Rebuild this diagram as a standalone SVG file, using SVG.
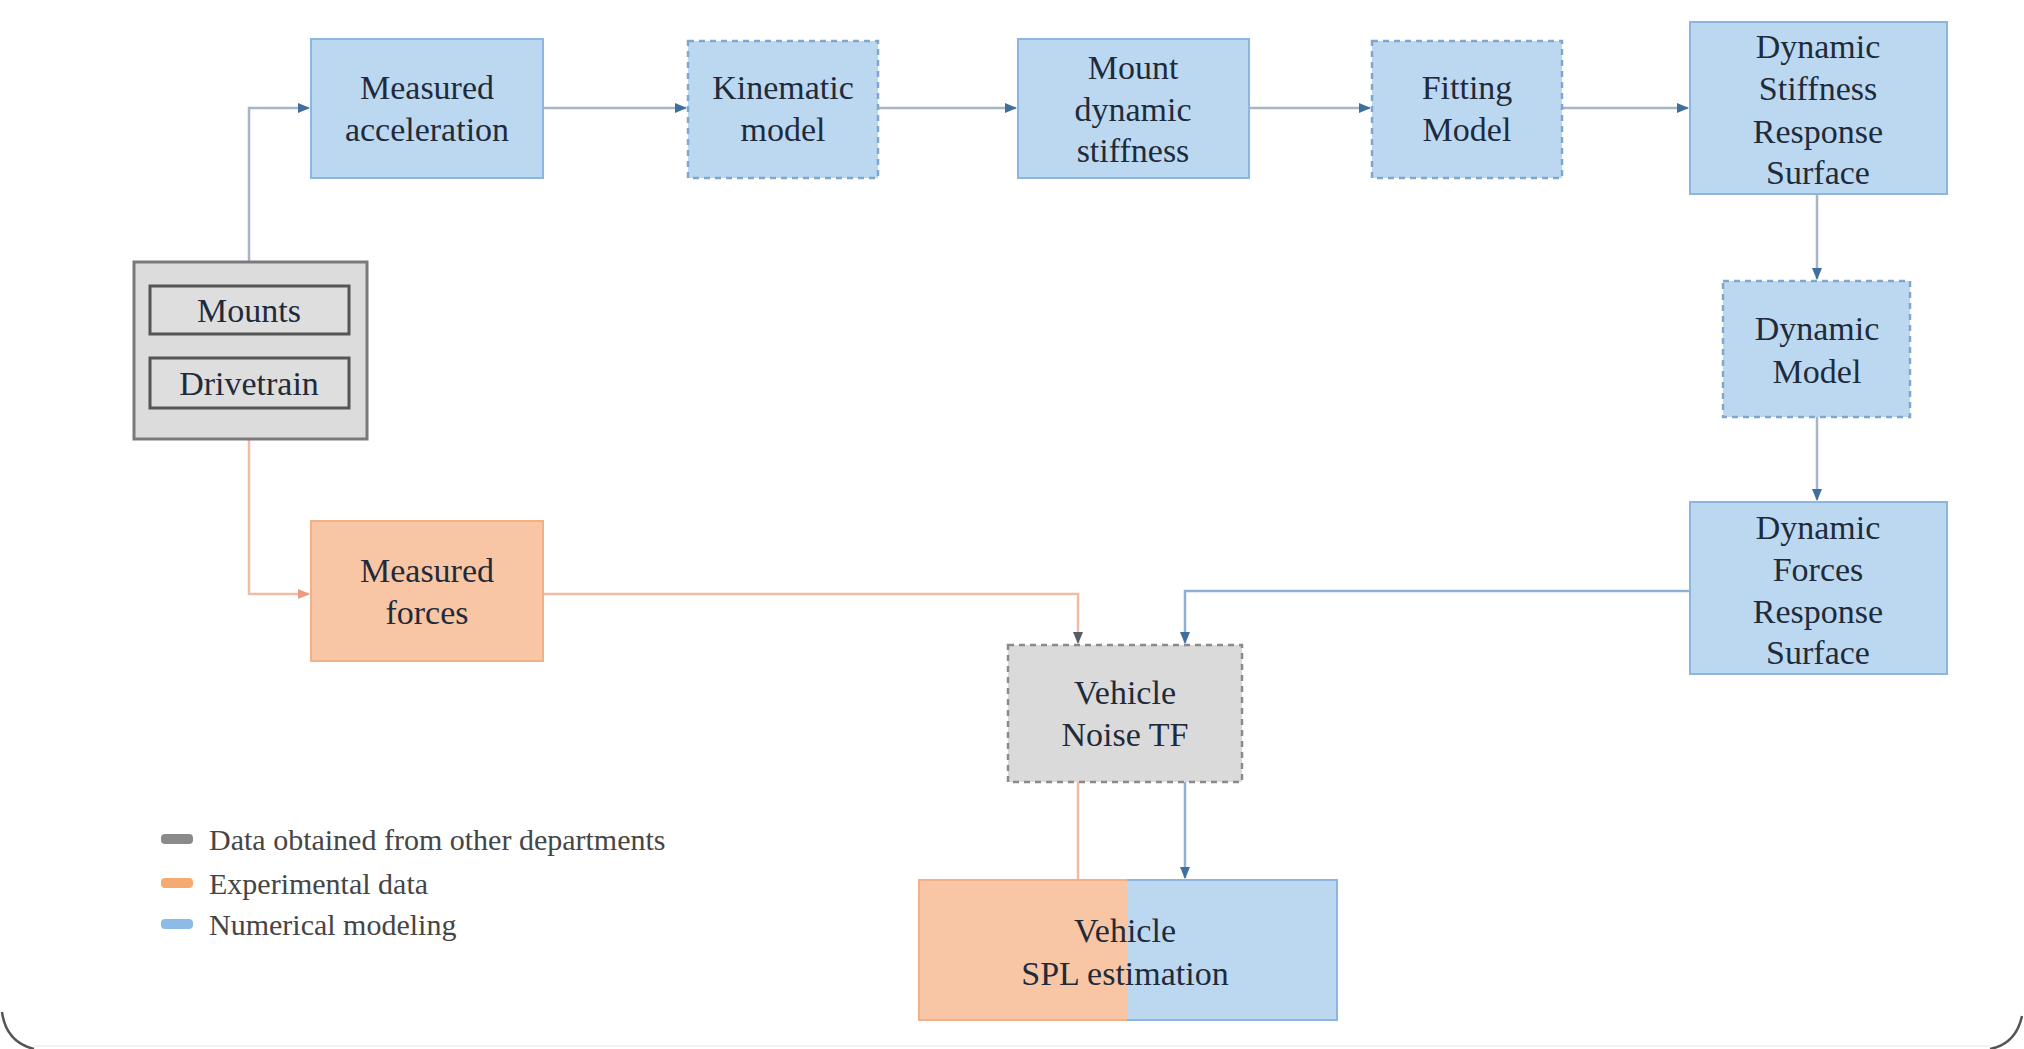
<svg xmlns="http://www.w3.org/2000/svg" width="2024" height="1049" viewBox="0 0 2024 1049">
<defs>
<style>
.t{font-size:34px;fill:#1f2b3a;text-anchor:middle}
.lg{font-size:30px;fill:#454545}
.blue{fill:#bcd8f1;stroke:#8cb6de;stroke-width:2}
.blued{fill:#bcd8f1;stroke:#7fa6cc;stroke-width:2.5;stroke-dasharray:6 5}
.orange{fill:#f8c6a4;stroke:#f0b088;stroke-width:2}
.gray{fill:#dcdcdc;stroke:#7a7a7a;stroke-width:3}
.grayin{fill:#dedede;stroke:#555;stroke-width:3}
.grayd{fill:#dadada;stroke:#8a8a8a;stroke-width:2.5;stroke-dasharray:6 5}
.cb{fill:none;stroke:#a6b6c8;stroke-width:2.5}
.cblue{fill:none;stroke:#8fb0d2;stroke-width:2.5}
.co{fill:none;stroke:#f2bca4;stroke-width:2.5}
</style>
<marker id="ab" markerUnits="userSpaceOnUse" markerWidth="12" markerHeight="10" refX="11" refY="5" orient="auto"><path d="M0,0 L12,5 L0,10 z" fill="#3f6f9f"/></marker>
<marker id="ao" markerUnits="userSpaceOnUse" markerWidth="12" markerHeight="10" refX="11" refY="5" orient="auto"><path d="M0,0 L12,5 L0,10 z" fill="#ec9a82"/></marker>
<marker id="ad" markerUnits="userSpaceOnUse" markerWidth="12" markerHeight="10" refX="11" refY="5" orient="auto"><path d="M0,0 L12,5 L0,10 z" fill="#555c66"/></marker>
</defs>
<rect x="0" y="0" width="2024" height="1049" fill="#ffffff"/>
<path d="M2,1012 Q6,1042 34,1049" fill="none" stroke="#555" stroke-width="2.5"/>
<path d="M1990,1049 Q2016,1044 2022,1016" fill="none" stroke="#555" stroke-width="2.5"/>
<line x1="34" y1="1046" x2="1990" y2="1046" stroke="#f2f2ee" stroke-width="2"/>

<g id="connectors">
<path class="cb" d="M249,262 V108 H309" marker-end="url(#ab)"/>
<path class="cb" d="M543,108 H686" marker-end="url(#ab)"/>
<path class="cb" d="M878,108 H1016" marker-end="url(#ab)"/>
<path class="cb" d="M1249,108 H1370" marker-end="url(#ab)"/>
<path class="cb" d="M1562,108 H1688" marker-end="url(#ab)"/>
<path class="cb" d="M1817,194 V279" marker-end="url(#ab)"/>
<path class="cb" d="M1817,417 V500" marker-end="url(#ab)"/>
<path class="cblue" d="M1690,591 H1185 V643" marker-end="url(#ab)"/>
<path class="co" d="M249,439 V594 H309" marker-end="url(#ao)"/>
<path class="co" d="M543,594 H1078 V643" marker-end="url(#ad)"/>
<path class="co" d="M1078,782 V880"/>
<path class="cblue" d="M1185,782 V878" marker-end="url(#ab)"/>
</g>

<g font-family="Liberation Serif, Times New Roman, DejaVu Serif, serif">
<g id="n-measured-acceleration">
<rect class="blue" x="311" y="39" width="232" height="139"/>
<text class="t" x="427" y="99">Measured</text>
<text class="t" x="427" y="141">acceleration</text>
</g>
<g id="n-kinematic-model">
<rect class="blued" x="688" y="41" width="190" height="137"/>
<text class="t" x="783" y="99">Kinematic</text>
<text class="t" x="783" y="141">model</text>
</g>
<g id="n-mount-dynamic-stiffness">
<rect class="blue" x="1018" y="39" width="231" height="139"/>
<text class="t" x="1133" y="79">Mount</text>
<text class="t" x="1133" y="121">dynamic</text>
<text class="t" x="1133" y="162">stiffness</text>
</g>
<g id="n-fitting-model">
<rect class="blued" x="1372" y="41" width="190" height="137"/>
<text class="t" x="1467" y="99">Fitting</text>
<text class="t" x="1467" y="141">Model</text>
</g>
<g id="n-dsrs">
<rect class="blue" x="1690" y="22" width="257" height="172"/>
<text class="t" x="1818" y="58">Dynamic</text>
<text class="t" x="1818" y="100">Stiffness</text>
<text class="t" x="1818" y="143">Response</text>
<text class="t" x="1818" y="184">Surface</text>
</g>
<g id="n-dynamic-model">
<rect class="blued" x="1723" y="281" width="187" height="136"/>
<text class="t" x="1817" y="340">Dynamic</text>
<text class="t" x="1817" y="383">Model</text>
</g>
<g id="n-dfrs">
<rect class="blue" x="1690" y="502" width="257" height="172"/>
<text class="t" x="1818" y="539">Dynamic</text>
<text class="t" x="1818" y="581">Forces</text>
<text class="t" x="1818" y="623">Response</text>
<text class="t" x="1818" y="664">Surface</text>
</g>
<g id="n-mounts-drivetrain">
<rect class="gray" x="134" y="262" width="233" height="177"/>
<rect class="grayin" x="150" y="286" width="199" height="48"/>
<text class="t" x="249" y="322">Mounts</text>
<rect class="grayin" x="150" y="358" width="199" height="50"/>
<text class="t" x="249" y="395">Drivetrain</text>
</g>
<g id="n-measured-forces">
<rect class="orange" x="311" y="521" width="232" height="140"/>
<text class="t" x="427" y="582">Measured</text>
<text class="t" x="427" y="624">forces</text>
</g>
<g id="n-vehicle-noise-tf">
<rect class="grayd" x="1008" y="645" width="234" height="137"/>
<text class="t" x="1125" y="704">Vehicle</text>
<text class="t" x="1125" y="746">Noise TF</text>
</g>
<g id="n-vehicle-spl">
<rect x="919" y="880" width="208" height="140" fill="#f8c6a4"/>
<rect x="1127" y="880" width="210" height="140" fill="#bcd8f1"/>
<path d="M1127,880 H919 V1020 H1127" fill="none" stroke="#f0b088" stroke-width="2"/>
<path d="M1127,880 H1337 V1020 H1127" fill="none" stroke="#8cb6de" stroke-width="2"/>
<text class="t" x="1125" y="942">Vehicle</text>
<text class="t" x="1125" y="985">SPL estimation</text>
</g>
<g id="legend">
<rect x="161" y="834" width="32" height="10" rx="4" fill="#8a8a8a"/>
<text class="lg" x="209" y="850">Data obtained from other departments</text>
<rect x="161" y="878" width="32" height="10" rx="4" fill="#f4aa70"/>
<text class="lg" x="209" y="894">Experimental data</text>
<rect x="161" y="919" width="32" height="10" rx="4" fill="#8dbbe8"/>
<text class="lg" x="209" y="935">Numerical modeling</text>
</g>
</g>
</svg>
